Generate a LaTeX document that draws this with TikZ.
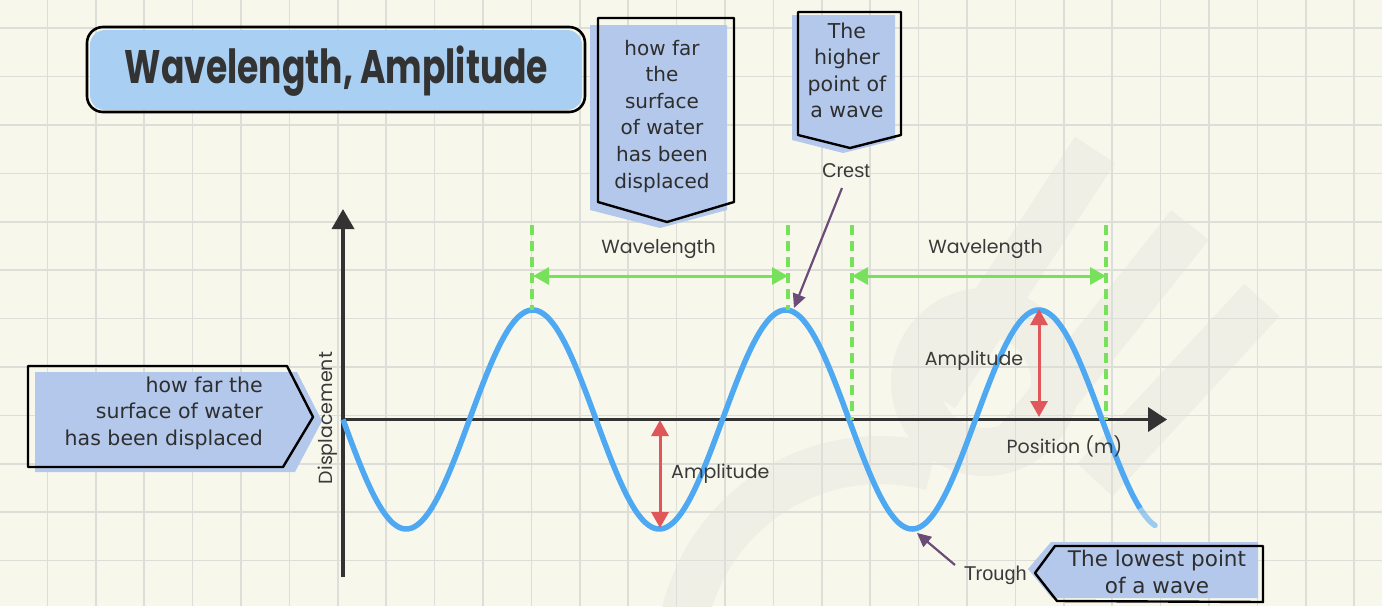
\documentclass[tikz,border=0pt]{standalone}
\usepackage{fontspec}
\setmainfont{DejaVu Sans}
\newfontfamily\labfont{Poppins}
\newfontfamily\arfont{Liberation Sans}
\newfontfamily\ttlfont{Poppins}
\usetikzlibrary{arrows.meta}
\definecolor{bgc}{HTML}{F8F7EC}
\definecolor{gridc}{HTML}{DEDED8}
\definecolor{wmc}{HTML}{F0EFE5}
\definecolor{titlefill}{HTML}{A9D0F3}
\definecolor{callfill}{HTML}{B4C8EB}
\definecolor{wavec}{HTML}{4FA8F2}
\definecolor{redc}{HTML}{E0575A}
\definecolor{greenc}{HTML}{78E15C}
\definecolor{purplec}{HTML}{6B4C78}
\definecolor{inkc}{HTML}{333333}
\definecolor{textc}{HTML}{3A3A3A}
\definecolor{calltextc}{HTML}{2E2E2E}
\tikzset{
 gridline/.style={gridc, line width=1.6pt},
 wmark/.style={wmc, line width=48pt},
 axisline/.style={inkc, line width=3.6pt, -{Triangle[length=20pt,width=22pt]}},
 waveline/.style={wavec, line width=5.5pt, line cap=round},
 dashline/.style={greenc, line width=3.2pt, dash pattern=on 10pt off 6pt},
 greenarrow/.style={greenc, line width=3pt, {Triangle[length=16pt,width=17pt]}-{Triangle[length=16pt,width=17pt]}},
 redarrow/.style={redc, line width=3pt, {Triangle[length=16pt,width=17pt]}-{Triangle[length=16pt,width=17pt]}},
 pointer/.style={purplec, line width=2.2pt, -{Triangle[length=14pt,width=13pt]}},
 lab/.style={font=\labfont\fontsize{19}{23}\selectfont, text=textc, inner sep=0pt},
 arlab/.style={font=\arfont\fontsize{20}{24}\selectfont, text=textc, inner sep=0pt},
 calltext/.style={font=\fontsize{20.5}{26.6}\selectfont, text=calltextc, align=center, inner sep=0pt},
 calloutline/.style={black, line width=2.4pt, line join=round},
 callfillst/.style={fill=callfill},
}
\begin{document}
\begin{tikzpicture}[x=1pt,y=-1pt]
\fill[bgc] (0,0) rectangle (1382,606);
\useasboundingbox (0,0) rectangle (1382,606);
% faint watermark
\begin{scope}
\clip (0,0) rectangle (1382,606);
\draw[wmark] (1095,150) -- (935,395);
\draw[wmark] (1190,225) -- (1015,445);
\draw[wmark] (1262,300) -- (1095,480);
\draw[wmark] (985,382) circle[radius=70];
\draw[wmark] (880,660) ++(180:200) arc[start angle=180, end angle=285, radius=200];
\end{scope}
% grid
\foreach \k in {1,...,28} \draw[gridline] ({48.4*\k-1},0) -- ({48.4*\k-1},606);
\foreach \k in {0,...,11} \draw[gridline] (0,{28.2+48.4*\k}) -- (1382,{28.2+48.4*\k});

% title
\fill[titlefill, rounded corners=15pt] (90,30) rectangle (582,110);
\draw[black, line width=2.6pt, rounded corners=16pt] (87,27) rectangle (585,112);
\node[anchor=base, text=inkc, inner sep=0pt] (title) at (336.5,83)
  {\scalebox{0.735}[1]{\ttlfont\bfseries\fontsize{47}{50}\selectfont Wavelength, Amplitude}};

% top middle callout
\fill[callfillst] (590,25) -- (727,25) -- (727,210) -- (660,228) -- (590,210) -- cycle;
\draw[calloutline] (598,18) -- (734,18) -- (734,202) -- (667,222) -- (598,202) -- cycle;
\node[calltext, font=\fontsize{20}{26.6}\selectfont] (c1) at (662,116)
  {how far\\the\\surface\\of water\\has been\\displaced};

% top right callout
\fill[callfillst] (792,15) -- (895,15) -- (895,140) -- (843,153) -- (792,140) -- cycle;
\draw[calloutline] (798,12) -- (901,12) -- (901,135) -- (850,148) -- (798,135) -- cycle;
\node[calltext, font=\fontsize{20.5}{26.4}\selectfont] (c2) at (847,70.5)
  {The\\higher\\point of\\a wave};

% left callout
\fill[callfillst] (35,372) -- (297,372) -- (322,421) -- (295,472) -- (35,472) -- cycle;
\draw[calloutline] (28,366) -- (287,366) -- (313,417) -- (283,467) -- (28,467) -- cycle;
\node[calltext, align=right, anchor=east] (c3) at (263,413)
  {how far the\\surface of water\\has been displaced};

% bottom right callout
\fill[callfillst] (1028,569) -- (1051,542) -- (1258,542) -- (1258,598) -- (1052,598) -- cycle;
\draw[calloutline] (1035,573) -- (1055,546) -- (1263,546) -- (1263,602) -- (1057,601) -- cycle;
\node[calltext, font=\fontsize{21.5}{27}\selectfont] (c4) at (1157,571.5)
  {The lowest point\\of a wave};

% axes
\coordinate (O) at (343,419.5);
\coordinate (ytop) at (343,209);
\coordinate (ybot) at (343,577);
\coordinate (xend) at (1167,419.5);
\draw[axisline] (ybot) -- (ytop);
\draw[axisline, -{Triangle[length=19pt,width=24pt]}] (O) -- (xend);

% wave
\draw[waveline, line cap=butt] plot[domain=343:1140, samples=400, smooth] (\x, {419.5+109.5*sin((\x-343)/253*360)});
\draw[waveline, opacity=0.55] plot[domain=1139:1155, samples=20, smooth] (\x, {419.5+109.5*sin((\x-343)/253*360)});

% green dashed markers
\coordinate (d1t) at (532,225); \coordinate (d1b) at (532,310);
\coordinate (d2t) at (788,225); \coordinate (d2b) at (788,310);
\coordinate (d3t) at (852,225); \coordinate (d3b) at (852,420);
\coordinate (d4t) at (1106,225); \coordinate (d4b) at (1106,420);
\draw[dashline] (d1t) -- (d1b);
\draw[dashline] (d2t) -- (d2b);
\draw[dashline] (d3t) -- (d3b);
\draw[dashline] (d4t) -- (d4b);
\coordinate (w1a) at (533,276); \coordinate (w1b) at (788,276);
\coordinate (w2a) at (852,276); \coordinate (w2b) at (1106,276);
\draw[greenarrow] (w1a) -- (w1b);
\draw[greenarrow] (w2a) -- (w2b);
\node[lab] (wl1) at (658.5,249) {Wavelength};
\node[lab] (wl2) at (985.5,249) {Wavelength};

% amplitude arrows
\coordinate (a1t) at (660,420); \coordinate (a1b) at (660,528);
\coordinate (a2t) at (1039,309); \coordinate (a2b) at (1039,417);
\draw[redarrow] (a1t) -- (a1b);
\draw[redarrow] (a2t) -- (a2b);
\node[lab, anchor=west] (am1) at (671,474) {Amplitude};
\node[lab] (am2) at (974,361) {Amplitude};

% axis labels
\node[lab] (pos) at (1064.5,446) {Position (m)};
\node[lab, rotate=90] (disp) at (328,418) {Displacement};

% crest / trough
\node[arlab] (crest) at (846,171) {Crest};
\coordinate (crestfrom) at (842,188);
\coordinate (crestpt) at (794,308);
\draw[pointer] (crestfrom) -- (crestpt);
\node[arlab] (trough) at (995.5,575) {Trough};
\coordinate (troughfrom) at (955,565);
\coordinate (troughpt) at (917,533);
\draw[pointer] (troughfrom) -- (troughpt);
\end{tikzpicture}
\end{document}
